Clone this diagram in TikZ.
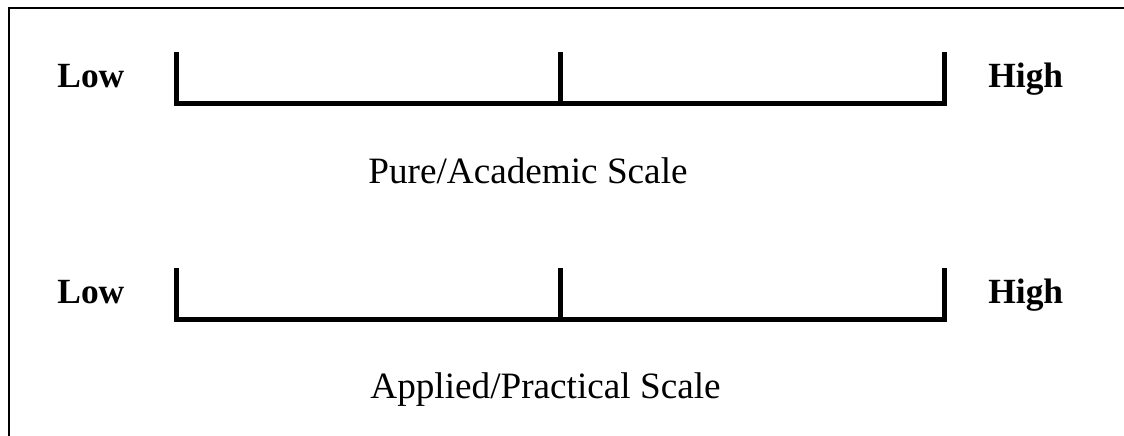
\documentclass[tikz,border=0pt]{standalone}
\usepackage{fontspec}
\setmainfont{Liberation Serif}
\usetikzlibrary{calc}

\tikzset{
  bar/.style={line width=2.5pt, line join=miter},
  endlabel/.style={anchor=base west, inner sep=0pt, font=\fontsize{17.7}{21}\selectfont\bfseries},
  scalename/.style={anchor=base west, inner sep=0pt, font=\fontsize{18.6}{22}\selectfont}
}

\begin{document}
\begin{tikzpicture}[x=0.5pt,y=-0.5pt]
            \useasboundingbox (0,0) rectangle (1124,435);
            \draw[line width=1pt] (1130,8) -- (9,8) -- (9,440);
            \foreach \y in {52,268} {
              \draw[bar] (176,\y) -- (176,\y+51) -- (944,\y+51) -- (944,\y);
              \draw[bar] (560,\y) -- (560,\y+51);
            }
            \node[endlabel] (low1) at (57,87) {Low};
            \node[endlabel] (high1) at (988,87) {High};
            \node[scalename] (pure) at (368,183) {Pure/Academic Scale};
            \node[endlabel] (low2) at (57,303) {Low};
            \node[endlabel] (high2) at (988,303) {High};
            \node[scalename] (applied) at (370,398) {Applied/Practical Scale};
        \end{tikzpicture}
\end{document}
